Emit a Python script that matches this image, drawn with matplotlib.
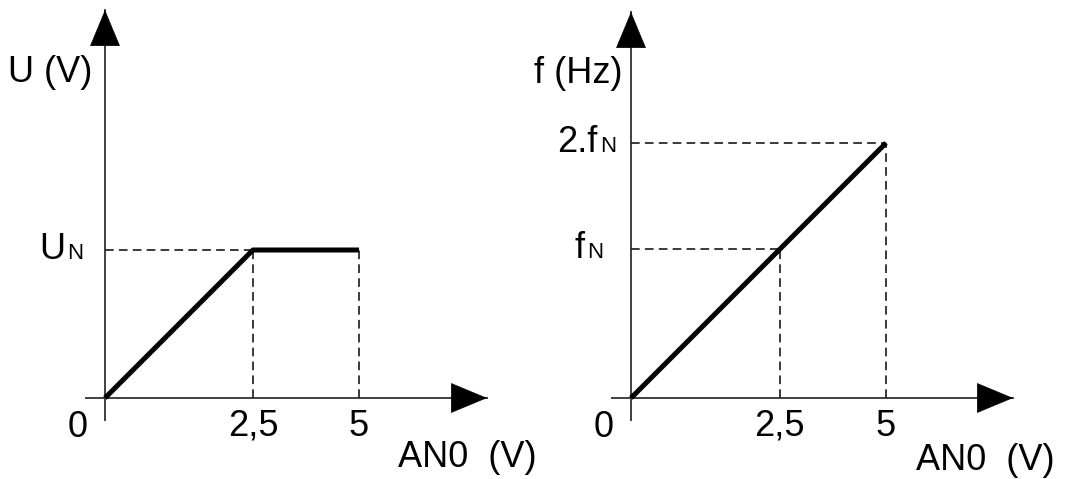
import numpy as np
import matplotlib
matplotlib.use("Agg")
import matplotlib.pyplot as plt

plt.rcParams['font.family'] = ['Liberation Sans', 'DejaVu Sans']

# caratteristica U/f dell'inverter in funzione dell'ingresso analogico AN0
an0 = [0, 2.5, 5]          # V
u_rel = [0, 1, 1]          # U / U_N
f_rel = [0, 1, 2]          # f / f_N

x_ticks = [2.5, 5]
x_tick_labels = ["2,5", "5"]

W, H = 1066, 479
P = 0.78  # scala "compressa" del disegno (non in proporzione)


def fwd(v):
    v = np.asarray(v, dtype=float)
    return np.sign(v) * np.abs(v) ** P


def inv(v):
    v = np.asarray(v, dtype=float)
    return np.sign(v) * np.abs(v) ** (1 / P)


AXIS_COL = "#404040"
DASH_COL = "#222222"
FS = 26
FS_SUB = 16
dash = dict(color=DASH_COL, lw=1.25, linestyle=(0, (5, 3)), clip_on=False)


def draw_axes(ax, w, h):
    ax.axis('off')
    # assi con freccia
    ax.plot([-19 / w, 1], [0, 0], transform=ax.transAxes, color=AXIS_COL, lw=1.4, clip_on=False)
    ax.plot([0, 0], [-22 / h, 1], transform=ax.transAxes, color=AXIS_COL, lw=1.4, clip_on=False)
    head = dict(arrowstyle='-|>,head_length=1.25,head_width=0.52', mutation_scale=20,
                color='black', shrinkA=0, shrinkB=0, lw=0.5)
    ax.annotate('', xy=(1, 0), xycoords='axes fraction', xytext=(-35, 0),
                textcoords='offset pixels', arrowprops=head)
    ax.annotate('', xy=(0, 1), xycoords='axes fraction', xytext=(0, -35),
                textcoords='offset pixels', arrowprops=head)
    # tacche sull'asse x
    ax.annotate("0", xy=(0, 0), xytext=(-17, -39), textcoords='offset pixels',
                ha='right', va='baseline', fontsize=FS)
    for xv, lab in zip(x_ticks, x_tick_labels):
        ax.annotate(lab, xy=(xv, 0), xytext=(0, -38), textcoords='offset pixels',
                    ha='center', va='baseline', fontsize=FS)


def y_label(ax, main, yv, dx):
    # etichetta con pedice "N"
    n = ax.annotate("N", xy=(0, yv), xytext=(-dx, -9), textcoords='offset pixels',
                    ha='right', va='baseline', fontsize=FS_SUB)
    ax.annotate(main, xy=(0, 0), xycoords=n, xytext=(-2, -3), textcoords='offset pixels',
                ha='right', va='bottom', fontsize=FS)


fig = plt.figure(figsize=(W / 100, H / 100), dpi=100)

# --- tensione ---
ax1 = fig.add_axes([105 / W, (H - 398) / H, 382 / W, 388 / H])
ax1.set_xscale('function', functions=(fwd, inv))
ax1.set_xlim(0, float(inv(fwd(5) * 382 / 254)))
ax1.set_ylim(0, 388 / 148)
draw_axes(ax1, 382, 388)
ax1.plot([0, an0[1]], [u_rel[1], u_rel[1]], **dash)
ax1.plot([an0[1], an0[1]], [0, u_rel[1]], **dash)
ax1.plot([an0[2], an0[2]], [0, u_rel[2]], **dash)
ax1.plot(an0, u_rel, color='black', lw=3.6, solid_capstyle='butt', clip_on=False)
y_label(ax1, "U", u_rel[1], 22)
ax1.annotate("U (V)", xy=(0, 1), xycoords='axes fraction', xytext=(-13, -72),
             textcoords='offset pixels', ha='right', va='baseline', fontsize=FS)
ax1.annotate("AN0  (V)", xy=(1, 0), xycoords='axes fraction', xytext=(50, -69),
             textcoords='offset pixels', ha='right', va='baseline', fontsize=FS)

# --- frequenza ---
ax2 = fig.add_axes([631 / W, (H - 398) / H, 382 / W, 386 / H])
ax2.set_xscale('function', functions=(fwd, inv))
ax2.set_yscale('function', functions=(fwd, inv))
ax2.set_xlim(0, float(inv(fwd(5) * 382 / 255)))
ax2.set_ylim(0, float(inv(fwd(2) * 386 / 255)))
draw_axes(ax2, 382, 386)
ax2.plot([0, an0[1]], [f_rel[1], f_rel[1]], **dash)
ax2.plot([0, an0[2]], [f_rel[2], f_rel[2]], **dash)
ax2.plot([an0[1], an0[1]], [0, f_rel[1]], **dash)
ax2.plot([an0[2], an0[2]], [0, f_rel[2]], **dash)
ax2.plot(an0, f_rel, color='black', lw=3.6, solid_capstyle='butt', clip_on=False)
y_label(ax2, "f", f_rel[1], 28)
y_label(ax2, "2.f", f_rel[2], 15)
ax2.annotate("f (Hz)", xy=(0, 1), xycoords='axes fraction', xytext=(-8, -71),
             textcoords='offset pixels', ha='right', va='baseline', fontsize=FS)
ax2.annotate("AN0  (V)", xy=(1, 0), xycoords='axes fraction', xytext=(42, -72),
             textcoords='offset pixels', ha='right', va='baseline', fontsize=FS)

fig.savefig("out.png", dpi=100)
